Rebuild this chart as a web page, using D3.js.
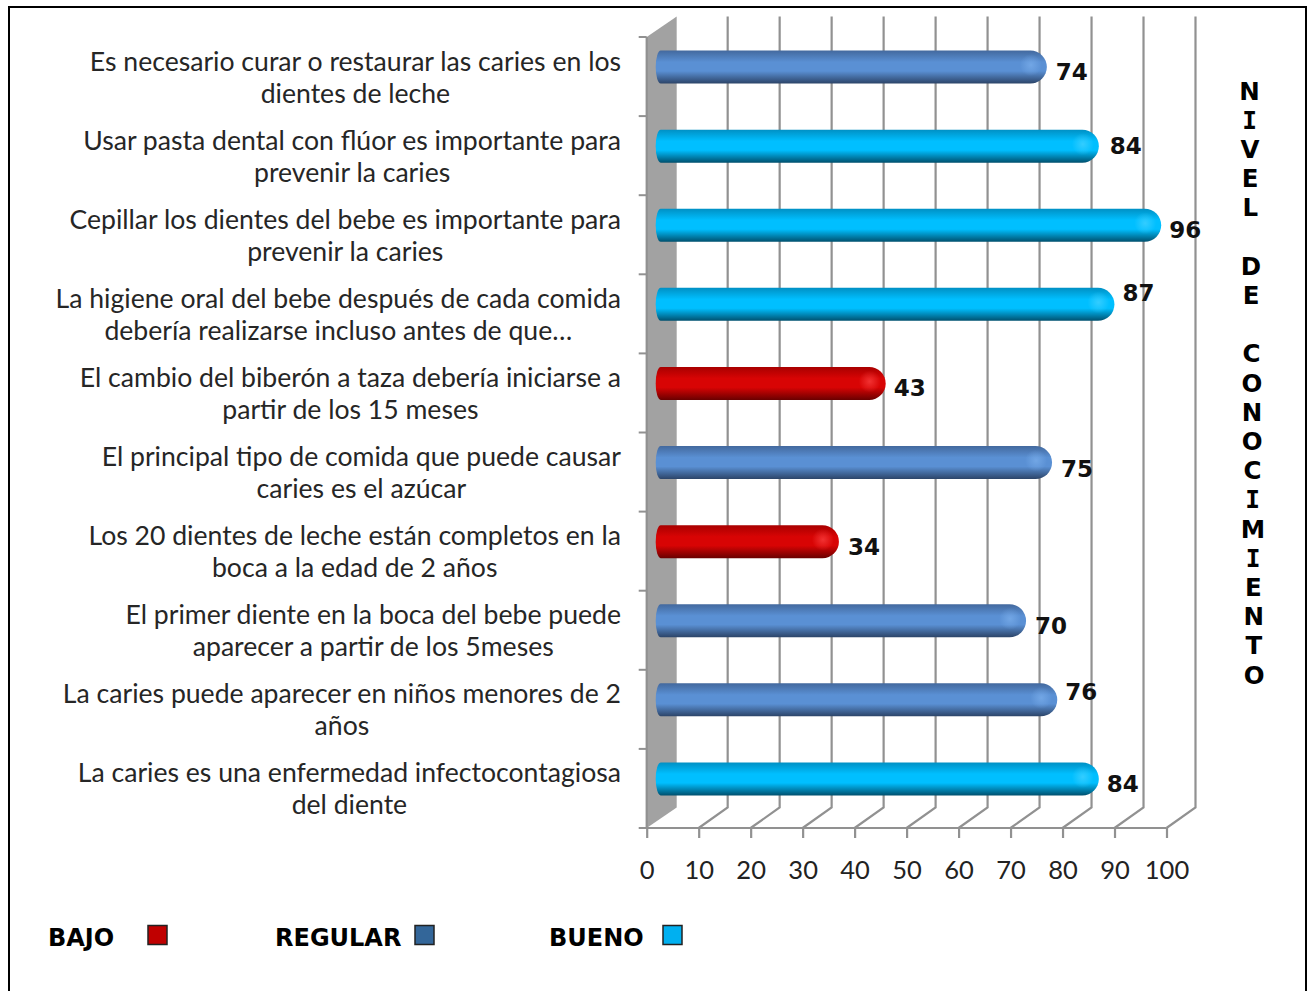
<!DOCTYPE html>
<html lang="es">
<head>
<meta charset="utf-8">
<title>Nivel de conocimiento</title>
<script src="https://cdn.jsdelivr.net/npm/d3@7"></script>
<style>
  html, body { margin: 0; padding: 0; background: #fff; }
  svg { display: block; }
  text { font-family: "DejaVu Sans", sans-serif; }
</style>
</head>
<body>
<svg id="chart" width="1307" height="991"></svg>
<script>
// Survey statements, top to bottom, each split over two lines
const statements = [
  ["Es necesario curar o restaurar las caries en los", "dientes de leche"],
  ["Usar pasta dental con flúor es importante para", "prevenir la caries"],
  ["Cepillar los dientes del bebe es importante para", "prevenir la caries"],
  ["La higiene oral del bebe después de cada comida", "debería realizarse incluso antes de que…"],
  ["El cambio del biberón a taza debería iniciarse a", "partir de los 15 meses"],
  ["El principal tipo de comida que puede causar", "caries es el azúcar"],
  ["Los 20 dientes de leche están completos en la", "boca a la edad de 2 años"],
  ["El primer diente en la boca del bebe puede", "aparecer a partir de los 5meses"],
  ["La caries puede aparecer en niños menores de 2", "años"],
  ["La caries es una enfermedad infectocontagiosa", "del diente"]
];
const scores = [74, 84, 96, 87, 43, 75, 34, 70, 76, 84];
const levels = ["REGULAR", "BUENO", "BUENO", "BUENO", "BAJO", "REGULAR", "BAJO", "REGULAR", "REGULAR", "BUENO"];
const xTicks = [0, 10, 20, 30, 40, 50, 60, 70, 80, 90, 100];
const legendLevels = ["BAJO", "REGULAR", "BUENO"];
const sideTitle = "NIVEL DE CONOCIMIENTO";

// Hand-placed nudges of the value labels, relative to the end of each bar
const labelNudge = [[25, 5], [27, 0], [24, 5], [24, -11], [24, 5], [25, 6], [25, 5], [25, 5], [24, -8], [24, 5]];

const palette = {
  BAJO:    { top: "#a80000", mid: "#d80404", low: "#6a0000", glow: "#ff4a4a", key: "#c00000" },
  REGULAR: { top: "#43699e", mid: "#5a90d4", low: "#2c4468", glow: "#7fb2ee", key: "#336699" },
  BUENO:   { top: "#0090c4", mid: "#00bfff", low: "#00506e", glow: "#4fd4ff", key: "#00b0f0" }
};

const svg = d3.select("#chart");

// Page frame, open along the bottom edge
svg.append("path")
  .attr("d", "M9,991V7H1306V991")
  .attr("fill", "none").attr("stroke", "#000").attr("stroke-width", 2);

const x = d3.scaleLinear().domain([0, 100]).range([646.7, 1166.5]);
const y = d3.scaleBand().domain(d3.range(statements.length)).range([37, 828]);
const depth = { dx: 29, dy: 20.5 };
const grey = "#919191";
const floorY = y.range()[1];
const ceilY = y.range()[0];

// Grey side wall of the 3D plot box
svg.append("polygon")
  .attr("points", [
    [x(0), ceilY], [x(0) + depth.dx + 1, ceilY - depth.dy],
    [x(0) + depth.dx + 1, floorY - depth.dy], [x(0), floorY]
  ].join(" "))
  .attr("fill", "#a2a2a2");

// Back-wall gridlines, folding forward over the floor
svg.append("g").selectAll("path")
  .data(xTicks.slice(1))
  .join("path")
  .attr("d", d => `M${x(d) + depth.dx},${ceilY - depth.dy}V${floorY - depth.dy}L${x(d)},${floorY}`)
  .attr("fill", "none").attr("stroke", grey).attr("stroke-width", 2.2);

// Bottom axis, with the labels added by d3.axisBottom
const xAxis = svg.append("g")
  .attr("transform", `translate(0,${floorY})`)
  .call(d3.axisBottom(x).tickValues(xTicks).tickSize(10).tickPadding(23).tickSizeOuter(0));
xAxis.select(".domain").remove();
xAxis.selectAll("line").attr("stroke", grey).attr("stroke-width", 2.2);
xAxis.selectAll("text").attr("font-size", 25.5).attr("fill", "#222").style("font-family", "Lato");

// Axis base lines and the category ticks on the left
svg.append("line").attr("x1", x(0) - 8).attr("x2", x(100)).attr("y1", floorY).attr("y2", floorY)
  .attr("stroke", grey).attr("stroke-width", 2.2);
svg.append("line").attr("x1", x(0)).attr("x2", x(0)).attr("y1", ceilY).attr("y2", floorY)
  .attr("stroke", grey).attr("stroke-width", 2.2);
svg.append("g").selectAll("line")
  .data(d3.range(statements.length))
  .join("line")
  .attr("x1", x(0) - 8).attr("x2", x(0))
  .attr("y1", d => y(d)).attr("y2", d => y(d))
  .attr("stroke", grey).attr("stroke-width", 2);

// Cylinder shading for each level
const defs = svg.append("defs");
Object.entries(palette).forEach(([name, c]) => {
  const g = defs.append("linearGradient").attr("id", `bar-${name}`)
    .attr("x1", 0).attr("y1", 0).attr("x2", 0).attr("y2", 1);
  [[0, c.top], [0.35, c.mid], [0.62, c.mid], [1, c.low]].forEach(([o, col]) =>
    g.append("stop").attr("offset", o).attr("stop-color", col));
  const r = defs.append("radialGradient").attr("id", `glow-${name}`);
  r.append("stop").attr("offset", 0).attr("stop-color", c.glow).attr("stop-opacity", 0.65);
  r.append("stop").attr("offset", 1).attr("stop-color", c.glow).attr("stop-opacity", 0);
});

const barH = 33;
const barLift = -9.5;   // bars sit mid-depth in the box
const barShift = 10;
const capEnd = 5.5;

const rows = svg.append("g").selectAll("g")
  .data(scores.map((v, i) => ({ v, i, level: levels[i] })))
  .join("g")
  .attr("transform", d => `translate(0,${y(d.i) + y.bandwidth() / 2 + barLift})`);

rows.append("path")
  .attr("d", d => {
    const x0 = x(0) + barShift - 1;
    const x1 = x(d.v) + barShift + capEnd;
    const h = barH / 2;
    return `M${x0 + 5},${-h}H${x1 - h}A${h},${h} 0 0 1 ${x1 - h},${h}H${x0 + 5}A5,${h} 0 0 1 ${x0 + 5},${-h}Z`;
  })
  .attr("fill", d => `url(#bar-${d.level})`);

rows.append("circle")
  .attr("cx", d => x(d.v) + barShift + capEnd - 16)
  .attr("cy", -2)
  .attr("r", 11)
  .attr("fill", d => `url(#glow-${d.level})`);

// Value labels
svg.append("g").selectAll("text")
  .data(scores)
  .join("text")
  .attr("x", (d, i) => x(d) + barShift + capEnd + labelNudge[i][0])
  .attr("y", (d, i) => y(i) + y.bandwidth() / 2 + barLift + labelNudge[i][1])
  .attr("text-anchor", "middle").attr("dominant-baseline", "central")
  .attr("font-size", 23).attr("font-weight", "bold").attr("fill", "#111")
  .text(d => d);

// Category labels: the two lines are centred on each other, and the block is right-aligned
const labelRight = 621;
statements.forEach((lines, i) => {
  const g = svg.append("g");
  const t = g.selectAll("text").data(lines).join("text")
    .style("font-family", "Lato").attr("font-size", 26.6).attr("fill", "#262626")
    .attr("dominant-baseline", "central")
    .attr("text-anchor", "middle")
    .attr("y", (d, k) => y(i) + y.bandwidth() / 2 - 16 + k * 32)
    .text(d => d);
  const w = d3.max(t.nodes(), n => n.getComputedTextLength());
  t.attr("x", labelRight - w / 2);
});

// Side title, one letter per row; the letter I keeps its slab serifs
const titleRow = 29.2;
svg.append("g").selectAll("text")
  .data(Array.from(sideTitle))
  .join("text")
  .attr("x", (d, i) => 1249.5 + i * 0.23)
  .attr("y", (d, i) => 91 + i * titleRow)
  .attr("text-anchor", "middle").attr("dominant-baseline", "central")
  .attr("font-size", 24.5).attr("font-weight", "bold").attr("fill", "#000")
  .style("font-family", d => d === "I" ? "'DejaVu Sans Mono'" : null)
  .text(d => d);

// Legend
const legendX = d3.scaleOrdinal().domain(legendLevels).range([48, 275, 549]);
const keyX = d3.scaleOrdinal().domain(legendLevels).range([148, 415, 663]);
const legend = svg.append("g");
legend.selectAll("text").data(legendLevels).join("text")
  .attr("x", d => legendX(d)).attr("y", 946)
  .attr("font-size", 24).attr("font-weight", "bold").attr("fill", "#000")
  .text(d => d);
legend.selectAll("rect").data(legendLevels).join("rect")
  .attr("x", d => keyX(d)).attr("y", 925.5).attr("width", 19).attr("height", 19)
  .attr("fill", d => palette[d].key)
  .attr("stroke", "#222").attr("stroke-width", 1.5);
</script>
</body>
</html>
